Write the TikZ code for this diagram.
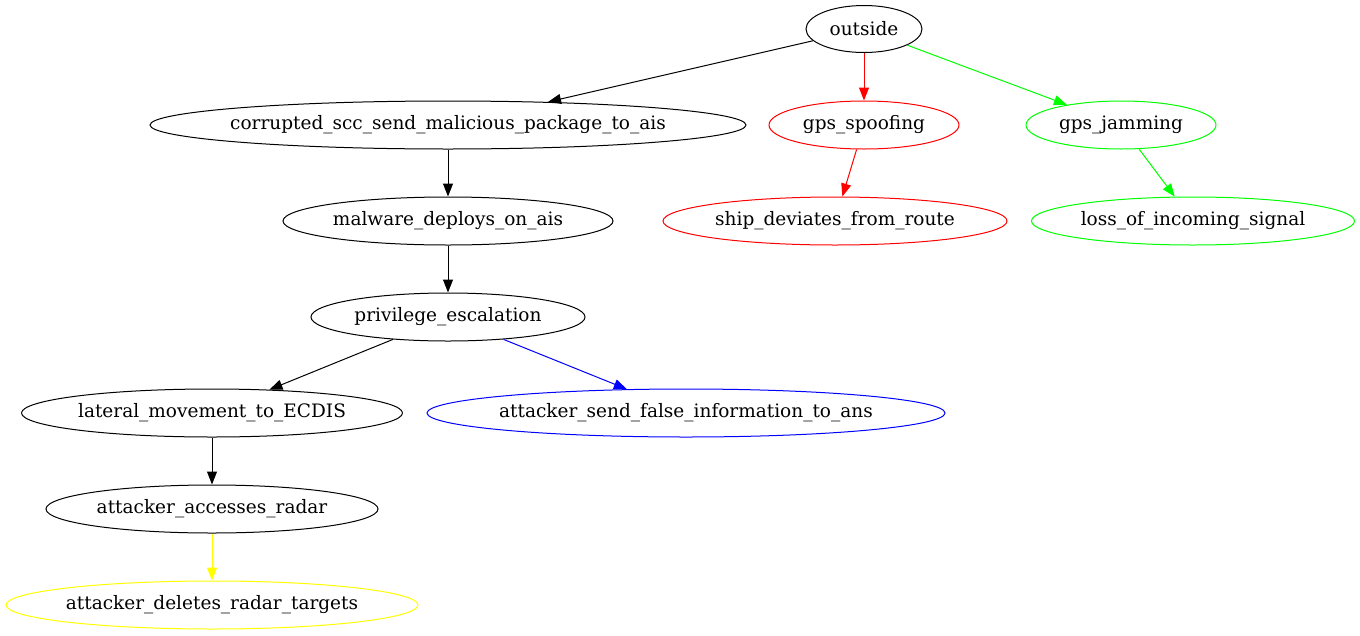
\documentclass[tikz,border=0pt]{standalone}
\usepackage{fontspec}
\setmainfont{DejaVu Serif}
\usetikzlibrary{shapes.geometric,arrows.meta}
\definecolor{gvred}{RGB}{255,0,0}
\definecolor{gvgreen}{RGB}{0,255,0}
\definecolor{gvblue}{RGB}{0,0,255}
\definecolor{gvyellow}{RGB}{255,255,0}
\begin{document}
\begin{tikzpicture}[x=1pt,y=-1pt,
  gv/.style={ellipse,draw,line width=1pt,inner xsep=-60pt,inner ysep=0pt,font=\fontsize{18.5}{22}\selectfont},
  edge/.style={line width=1pt,-{Triangle[length=13pt,width=10pt]}},
]
\useasboundingbox (0,0) rectangle (1360,635);
\node[gv,minimum width=116,minimum height=47] (outside) at (864,29) {outside};
\node[gv,minimum width=596,minimum height=48] (corrupted) at (448,125) {corrupted\_scc\_send\_malicious\_package\_to\_ais};
\node[gv,gvred,text=black,minimum width=190,minimum height=48] (spoof) at (864,125) {gps\_spoofing};
\node[gv,gvgreen,text=black,minimum width=190,minimum height=48] (jam) at (1121,125) {gps\_jamming};
\node[gv,minimum width=330,minimum height=48] (malware) at (448,221) {malware\_deploys\_on\_ais};
\node[gv,gvred,text=black,minimum width=344,minimum height=48] (ship) at (835,221) {ship\_deviates\_from\_route};
\node[gv,gvgreen,text=black,minimum width=323,minimum height=48] (loss) at (1193,221) {loss\_of\_incoming\_signal};
\node[gv,minimum width=274,minimum height=48] (priv) at (448,317) {privilege\_escalation};
\node[gv,minimum width=381,minimum height=48] (lateral) at (212,413) {lateral\_movement\_to\_ECDIS};
\node[gv,gvblue,text=black,minimum width=518,minimum height=48] (falseinfo) at (686,413) {attacker\_send\_false\_information\_to\_ans};
\node[gv,minimum width=332,minimum height=48] (radar) at (212,509) {attacker\_accesses\_radar};
\node[gv,gvyellow,text=black,minimum width=412,minimum height=48] (deletes) at (212,605) {attacker\_deletes\_radar\_targets};

\draw[edge] (outside) -- (corrupted);
\draw[edge,gvred] (outside) -- (spoof);
\draw[edge,gvgreen] (outside) -- (jam);
\draw[edge,gvred] (spoof) -- (ship);
\draw[edge,gvgreen] (jam) -- (loss);
\draw[edge] (corrupted) -- (malware);
\draw[edge] (malware) -- (priv);
\draw[edge] (priv) -- (lateral);
\draw[edge,gvblue] (priv) -- (falseinfo);
\draw[edge] (lateral) -- (radar);
\draw[edge,gvyellow] (radar) -- (deletes);
\end{tikzpicture}
\end{document}
